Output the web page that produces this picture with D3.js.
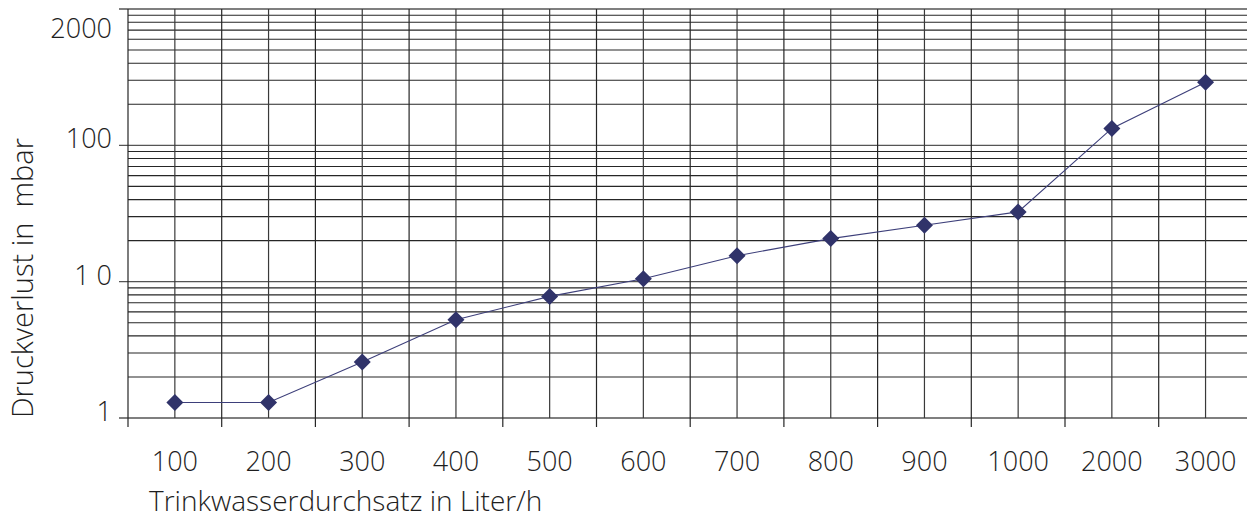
<!DOCTYPE html>
<html>
<head>
<meta charset="utf-8">
<script src="https://cdn.jsdelivr.net/npm/d3@7"></script>
<style>
  html, body { margin: 0; padding: 0; background: #fff; }
  svg { display: block; }
  text { font-family: "Open Sans", "Noto Sans", sans-serif; font-weight: 350; fill: #1e1e1e; }
</style>
</head>
<body>
<svg id="chart" width="1247" height="519"></svg>
<script>
// Flow rate categories (Liter/h) and measured pressure loss (mbar)
const categories = ["100", "200", "300", "400", "500", "600", "700", "800", "900", "1000", "2000", "3000"];
const pressureLoss = [1.3, 1.3, 2.57, 5.25, 7.8, 10.5, 15.5, 20.7, 25.9, 32.5, 133, 290];

// Y tick labels as printed on the axis, with the value each one sits on
const yTickValues = [1, 10, 100, 650];
const yTickLabels = ["1", "1 0", "100", "2000"];

const svg = d3.select("#chart");
const W = 1247;

const x = d3.scaleBand().domain(categories).range([128, 128 + 12 * 93.7]).padding(0);
const y = d3.scaleLog().domain([1, 1000]).range([418, 9]);
const cx = d => x(d) + x.bandwidth() / 2;

const grid = svg.append("g");

// Logarithmic horizontal grid: minor lines 2..9 per decade, major lines at powers of ten
const minor = [];
for (let p = 0; p < 3; p++) for (let m = 2; m <= 9; m++) minor.push(m * Math.pow(10, p));
const major = [1, 10, 100, 1000];

grid.selectAll("line.minor").data(minor).join("line")
  .attr("x1", 128).attr("x2", W)
  .attr("y1", d => y(d)).attr("y2", d => y(d))
  .attr("stroke", "#262626").attr("stroke-width", 1.1);

grid.selectAll("line.major").data(major).join("line")
  .attr("x1", 119).attr("x2", W)
  .attr("y1", d => y(d)).attr("y2", d => y(d))
  .attr("stroke", "#555").attr("stroke-width", 1.4);

// Vertical lines: category boundaries (with ticks below the axis) and category centres
const bounds = categories.map(c => x(c)).concat([x.range()[1]]);
grid.selectAll("line.bound").data(bounds).join("line")
  .attr("x1", d => d).attr("x2", d => d)
  .attr("y1", 9).attr("y2", 427)
  .attr("stroke", "#262626").attr("stroke-width", 1.2);

grid.selectAll("line.centre").data(categories).join("line")
  .attr("x1", d => cx(d)).attr("x2", d => cx(d))
  .attr("y1", 9).attr("y2", 418)
  .attr("stroke", "#3a3a3a").attr("stroke-width", 1.2);

// Y tick labels
svg.append("g").selectAll("text").data(yTickValues).join("text")
  .attr("x", 112).attr("y", d => y(d) + 3)
  .attr("text-anchor", "end")
  .attr("font-size", 27)
  .text((d, i) => yTickLabels[i]);

// X tick labels
svg.append("g").selectAll("text").data(categories).join("text")
  .attr("x", d => cx(d)).attr("y", 471)
  .attr("text-anchor", "middle")
  .attr("font-size", 27)
  .text(d => d);

// Axis titles
svg.append("text")
  .attr("x", 149).attr("y", 511)
  .attr("font-size", 28)
  .text("Trinkwasserdurchsatz in Liter/h");

svg.append("text")
  .attr("transform", "translate(33,418) rotate(-90)")
  .attr("font-size", 29)
  .attr("xml:space", "preserve")
  .style("white-space", "pre")
  .text("Druckverlust in  mbar");

// Data line and diamond markers
const line = d3.line().x((d, i) => cx(categories[i])).y(d => y(d));
svg.append("path")
  .datum(pressureLoss)
  .attr("d", line)
  .attr("fill", "none")
  .attr("stroke", "#3d3f7a")
  .attr("stroke-width", 1.1);

svg.append("g").selectAll("path").data(pressureLoss).join("path")
  .attr("transform", (d, i) => `translate(${cx(categories[i])},${y(d)})`)
  .attr("d", "M0,-8.5L8.5,0L0,8.5L-8.5,0Z")
  .attr("fill", "#30336a");
</script>
</body>
</html>
